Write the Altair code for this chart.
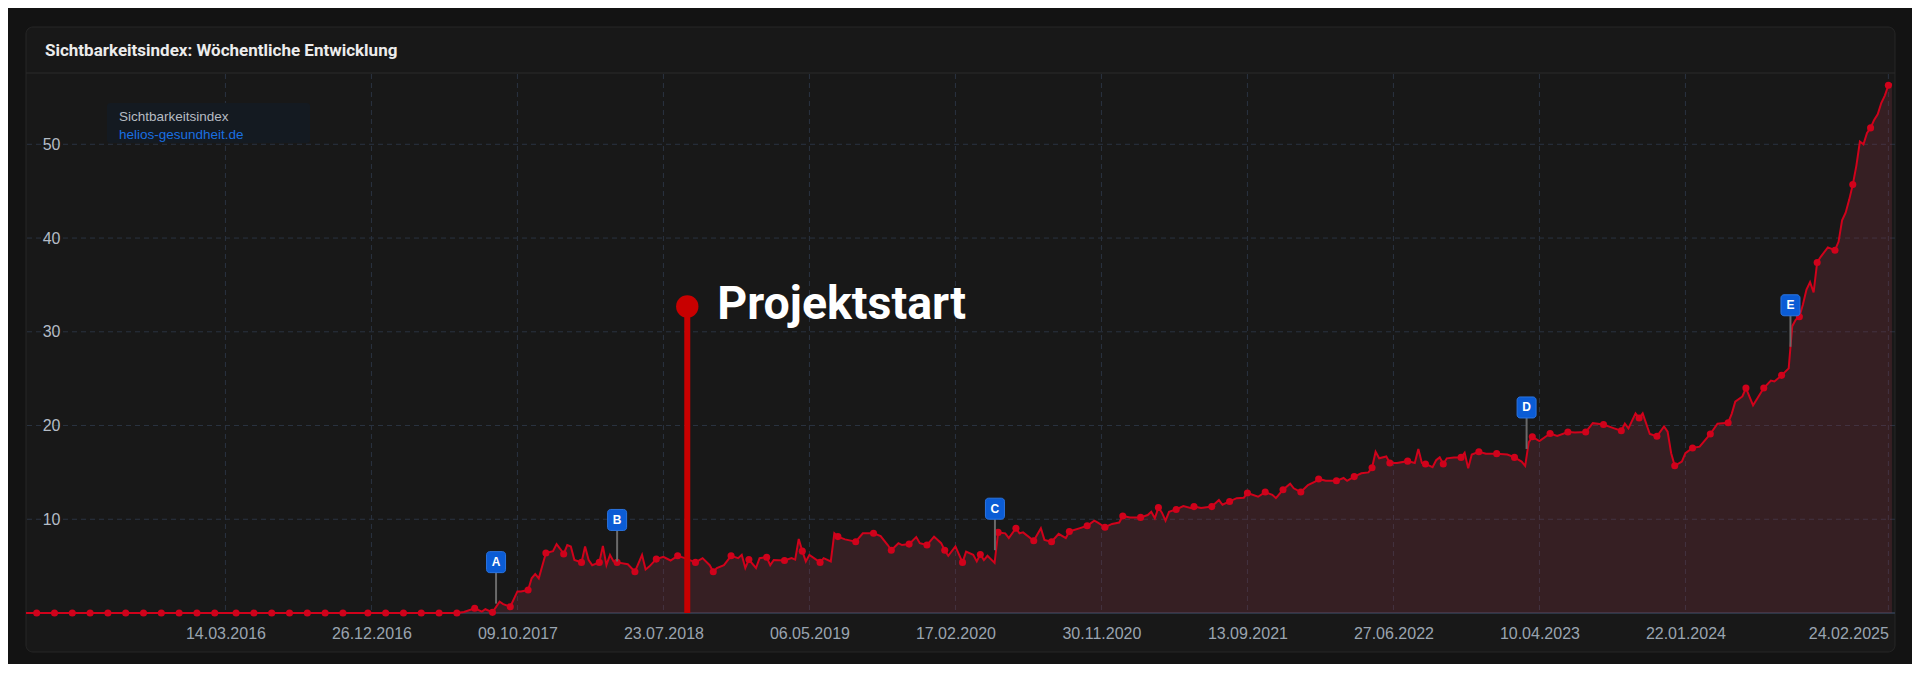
import altair as alt
import pandas as pd

# ---------------- data ----------------
START = "2015-02-16"          # first weekly value (Monday)

# week number counted from START, visibility index, 1 = drawn with a marker
week_no = [0, 3, 8, 13, 18, 23, 28, 33, 38, 43, 48, 53, 59, 64, 69, 74, 79, 84, 89, 96, 101, 106, 111, 116, 121,
           123, 126, 128, 129, 131, 133, 134, 136, 138, 139, 141, 142, 143, 144, 146, 148, 149, 150, 151, 152,
           153, 154, 156, 157, 158, 159, 161, 162, 163, 164, 165, 166, 169, 171, 173, 174, 175, 177, 179, 181,
           183, 185, 188, 190, 192, 193, 194, 196, 198, 200, 201, 202, 203, 205, 206, 208, 209, 210, 213, 215,
           216, 217, 218, 219, 220, 223, 224, 226, 227, 228, 230, 233, 235, 238, 240, 242, 243, 245, 246, 248,
           250, 251, 253, 255, 257, 258, 259, 261, 263, 264, 266, 267, 268, 269, 270, 272, 273, 275, 276, 278,
           279, 280, 283, 285, 286, 288, 290, 292, 293, 296, 298, 300, 301, 303, 305, 307, 308, 310, 313, 315,
           316, 317, 318, 319, 320, 321, 323, 325, 327, 328, 330, 333, 335, 336, 338, 340, 342, 343, 346, 348,
           350, 351, 353, 355, 356, 358, 360, 362, 363, 365, 368, 370, 371, 373, 375, 377, 378, 379, 380, 382,
           383, 385, 388, 390, 391, 392, 393, 395, 396, 397, 398, 399, 401, 403, 404, 405, 406, 408, 410, 413,
           416, 418, 420, 421, 422, 423, 425, 428, 430, 433, 435, 438, 440, 443, 446, 448, 449, 450, 452, 453,
           454, 456, 458, 460, 461, 462, 463, 465, 466, 468, 470, 473, 475, 478, 479, 480, 482, 483, 485, 488,
           490, 491, 493, 495, 496, 497, 498, 499, 500, 501, 502, 503, 504, 506, 508, 509, 510, 511, 512, 513,
           514, 515, 516, 517, 518, 519, 520, 521, 522, 523, 524]
index_value = [0, 0, 0, 0, 0, 0, 0, 0, 0, 0, 0, 0, 0, 0, 0, 0, 0, 0, 0, 0, 0, 0, 0, 0, 0,
               0.1, 0.5, 0.15, 0.4, 0.07, 1.2, 0.95, 0.67, 2.3, 2.3, 2.45, 3.7, 4.15, 3.7, 6.4, 6.6, 7.35, 6.85, 6.3, 7.25,
               7.1, 5.65, 5.4, 7.1, 5.65, 5.1, 5.4, 7.15, 5.1, 6.2, 5.5, 5.4, 5.2, 4.4, 6.2, 4.65, 4.95, 5.75, 6.0, 5.6,
               6.1, 5.85, 5.4, 5.85, 5.1, 4.4, 4.8, 5.1, 6.1, 5.85, 6.2, 4.8, 5.7, 4.8, 5.85, 5.95, 5.1, 5.65, 5.6, 5.85,
               5.7, 7.9, 6.6, 5.5, 6.2, 5.4, 5.85, 5.5, 8.5, 8.15, 7.85, 7.6, 8.5, 8.5, 8.2, 7.25, 6.7, 7.45, 7.25, 7.35,
               8.1, 7.45, 7.25, 8.15, 7.45, 6.7, 6.1, 7.1, 5.4, 6.55, 6.2, 5.5, 6.25, 5.65, 6.1, 5.35, 8.6, 8.5, 8.0, 9.05,
               8.5, 8.6, 7.7, 9.05, 7.8, 7.6, 8.45, 8.0, 8.7, 9.05, 9.3, 9.85, 9.65, 9.15, 9.5, 9.65, 10.35, 10.2, 10.2, 10.45,
               10.8, 10.1, 11.25, 10.7, 9.85, 10.8, 11.05, 11.4, 11.2, 11.35, 11.2, 11.35, 12.05, 11.55, 11.9, 12.25, 12.3, 12.8, 12.4, 12.9,
               12.6, 12.25, 13.15, 13.8, 13.3, 12.9, 13.65, 14.0, 14.3, 14.1, 14.1, 14.4, 14.1, 14.55, 14.9, 15.0, 15.5, 17.2, 16.5, 16.7,
               16.0, 16.0, 16.2, 16.0, 17.5, 16.0, 15.9, 15.55, 16.3, 16.6, 15.9, 16.5, 16.6, 16.6, 17.1, 15.45, 16.9, 17.2, 17.0, 17.0,
               16.9, 16.6, 16.15, 15.7, 18.2, 18.8, 18.35, 19.15, 18.9, 19.3, 19.25, 19.3, 20.25, 20.1, 19.7, 19.45, 20.2, 19.7, 21.3, 20.8,
               21.3, 19.1, 18.85, 19.9, 19.35, 17.05, 15.7, 16.15, 17.05, 17.6, 17.75, 19.1, 20.2, 20.3, 21.25, 22.55, 23.1, 24.0, 22.15, 24.0,
               24.8, 24.7, 25.35, 26.1, 30.6, 31.3, 31.6, 32.9, 34.5, 35.3, 34.2, 37.4, 38.0, 39.0, 38.7, 39.6, 41.9, 42.7, 44.1, 45.7,
               47.7, 50.3, 50.0, 51.2, 51.75, 52.6, 53.2, 54.4, 55.2, 56.3, 56.4]
marker = [0, 1, 1, 1, 1, 1, 1, 1, 1, 1, 1, 1, 1, 1, 1, 1, 1, 1, 1, 1, 1, 1, 1, 1, 1,
          0, 1, 0, 0, 1, 0, 0, 1, 0, 0, 1, 0, 0, 0, 1, 0, 0, 0, 1, 0,
          0, 0, 1, 0, 0, 0, 1, 0, 0, 0, 0, 1, 0, 1, 0, 0, 0, 1, 0, 0,
          1, 0, 1, 0, 0, 1, 0, 0, 1, 0, 0, 0, 1, 0, 0, 1, 0, 0, 1, 0,
          0, 0, 1, 0, 0, 1, 0, 0, 0, 1, 0, 1, 0, 1, 0, 0, 1, 0, 0, 1,
          0, 0, 1, 0, 0, 1, 0, 0, 1, 0, 0, 0, 1, 0, 0, 0, 1, 0, 0, 1,
          0, 0, 1, 0, 0, 1, 0, 0, 1, 0, 1, 0, 0, 1, 0, 0, 1, 0, 1, 0,
          0, 0, 1, 0, 0, 0, 1, 0, 0, 1, 0, 1, 0, 0, 1, 0, 0, 1, 0, 1,
          0, 0, 1, 0, 0, 1, 0, 0, 1, 0, 1, 0, 0, 1, 0, 0, 1, 0, 0, 0,
          1, 0, 1, 0, 0, 0, 1, 0, 0, 0, 1, 0, 0, 1, 0, 0, 0, 1, 0, 1,
          0, 1, 0, 0, 0, 1, 0, 1, 0, 1, 0, 1, 0, 1, 0, 1, 0, 0, 0, 1,
          0, 0, 1, 0, 0, 0, 1, 0, 0, 1, 0, 1, 0, 1, 0, 0, 0, 1, 0, 1,
          0, 0, 1, 0, 0, 0, 1, 0, 0, 0, 0, 1, 0, 0, 1, 0, 0, 0, 0, 1,
          0, 0, 0, 0, 1, 0, 0, 0, 0, 1, 0]

x_tick_labels = ["14.03.2016", "26.12.2016", "09.10.2017", "23.07.2018", "06.05.2019", "17.02.2020",
                 "30.11.2020", "13.09.2021", "27.06.2022", "10.04.2023", "22.01.2024", "24.02.2025"]
y_tick_values = [10, 20, 30, 40, 50]
x_domain = ["2015-02-16", "2025-03-09"]
y_domain = [0, 57.5]

event_letter = ["A", "B", "C", "D", "E"]
event_week = [132, 166, 272.1, 421.4, 495.5]
event_anchor = [1.0, 5.5, 6.7, 17.5, 28.4]

project_label = "Projektstart"
project_week = 185.7
project_value = 32.7

chart_title = "Sichtbarkeitsindex: Wöchentliche Entwicklung"
legend_name = "Sichtbarkeitsindex"
legend_domain = "helios-gesundheit.de"

# ---------------- helpers ----------------
def to_ms(ts):
    return int(pd.Timestamp(ts).value // 10**6)

WEEK_MS = 7 * 24 * 3600 * 1000
start_ms = to_ms(START)

def week_ms(w):
    return start_ms + w * WEEK_MS

series = pd.DataFrame({"t": [week_ms(w) for w in week_no], "v": index_value, "m": marker})
dots = series[series["m"] == 1]
xticks = pd.DataFrame({"t": [to_ms(pd.to_datetime(s, format="%d.%m.%Y")) for s in x_tick_labels]})
yticks = pd.DataFrame({"v": y_tick_values})
events = pd.DataFrame({"t": [week_ms(w) for w in event_week], "v": event_anchor, "label": event_letter})
project = pd.DataFrame({"t": [week_ms(project_week)], "v": [project_value], "label": [project_label]})

W, H = 1869, 539
LINE = "#d0021b"
GRID = "#2a3341"
LABEL_FONT = "Liberation Sans"

x_scale = alt.Scale(type="utc", domain=[to_ms(d) for d in x_domain])
y_scale = alt.Scale(domain=y_domain, nice=False, zero=True)

x_axis = alt.Axis(values=list(xticks["t"]), labelExpr="utcFormat(datum.value, '%d.%m.%Y')",
                  labelFlush=10, grid=False, domain=False, ticks=False, tickSize=0, labelPadding=12,
                  labelColor="#9aa4b0", labelFontSize=16, labelFont=LABEL_FONT, title=None,
                  zindex=1, labelOverlap=False)
y_axis = alt.Axis(values=y_tick_values, grid=False, domain=False, ticks=False, tickSize=0,
                  labelPadding=-34, labelAlign="right", labelColor="#b4bcc6", labelFontSize=16,
                  labelFont=LABEL_FONT, title=None, zindex=1)

X = alt.X("t:T", scale=x_scale, axis=x_axis)
Y = alt.Y("v:Q", scale=y_scale, axis=y_axis)

one = pd.DataFrame({"k": [0]})

# card and header
card = alt.Chart(one).mark_rect(fill="#181818", stroke="#272727", strokeWidth=1, cornerRadius=7).encode(
    x=alt.value(0), x2=alt.value(W), y=alt.value(-47), y2=alt.value(578))
header_rule = alt.Chart(one).mark_rule(color="#2a2a2a", strokeWidth=1).encode(
    x=alt.value(0), x2=alt.value(W), y=alt.value(-1))
title = alt.Chart(one).mark_text(align="left", baseline="middle", font="Roboto", fontWeight="bold",
                                 fontSize=17, color="#ececec").encode(
    x=alt.value(19), y=alt.value(-23), text=alt.value(chart_title))

# grid
grid_v = alt.Chart(xticks).mark_rule(color=GRID, strokeWidth=1, strokeDash=[5, 4]).encode(x=X)
grid_h = alt.Chart(yticks).mark_rule(color=GRID, strokeWidth=1, strokeDash=[5, 4]).encode(y=Y)
base_rule = alt.Chart(one).mark_rule(color="#2c3645", strokeWidth=2).encode(
    x=alt.value(0), x2=alt.value(W), y=alt.value(H))

# legend box
legend_box = alt.Chart(one).mark_rect(fill="#141a21", cornerRadius=3).encode(
    x=alt.value(81), x2=alt.value(284), y=alt.value(29), y2=alt.value(69))
legend_t1 = alt.Chart(one).mark_text(align="left", baseline="middle", font=LABEL_FONT, fontSize=13.5,
                                     color="#b7bcc3").encode(
    x=alt.value(93), y=alt.value(42.5), text=alt.value(legend_name))
legend_t2 = alt.Chart(one).mark_text(align="left", baseline="middle", font=LABEL_FONT, fontSize=13.5,
                                     color="#1a6fe0").encode(
    x=alt.value(93), y=alt.value(61), text=alt.value(legend_domain))

# series
area = alt.Chart(series).mark_area(color="#903444", opacity=0.25).encode(x=X, y=Y)
line = alt.Chart(series).mark_line(color=LINE, strokeWidth=2).encode(x=X, y=Y)
points = alt.Chart(dots).mark_point(filled=True, color=LINE, size=50, opacity=1).encode(x=X, y=Y)

# event flags
poles = alt.Chart(events).mark_rule(color="#6a6a6a", strokeWidth=2, y2Offset=-31).encode(
    x=X, y=Y, y2="v:Q")
flags = alt.Chart(events).mark_rect(fill="#0b5cd5", stroke="#2b74e0", strokeWidth=1, cornerRadius=3,
                                    xOffset=-9.5, x2Offset=9.5, yOffset=-31, y2Offset=-52).encode(
    x=X, x2="t:T", y=Y, y2="v:Q")
flag_text = alt.Chart(events).mark_text(color="white", font=LABEL_FONT, fontWeight="bold", fontSize=12,
                                        baseline="middle", align="center", dy=-41.5).encode(
    x=X, y=Y, text="label:N")

# Projektstart marker
proj_rule = alt.Chart(project).mark_rule(color="#c80000", strokeWidth=6).encode(
    x=X, y=Y, y2=alt.datum(0))
proj_dot = alt.Chart(project).mark_point(filled=True, color="#c80000", size=500, opacity=1).encode(x=X, y=Y)
proj_text = alt.Chart(project).mark_text(align="left", baseline="alphabetic", font="Roboto",
                                         fontWeight="bold", fontSize=46.5, color="white", dx=30, dy=13).encode(
    x=X, y=Y, text="label:N")

chart = alt.layer(
    card, header_rule, title, grid_v, grid_h, legend_box, legend_t1, legend_t2, base_rule,
    area, line, points, poles, flags, flag_text, proj_rule, proj_dot, proj_text
).properties(
    width=W, height=H,
    padding={"left": 18, "top": 66, "right": 17, "bottom": 51},
    autosize=alt.AutoSizeParams(type="none"),
    background="#131313",
).configure_view(stroke=None, fill=None)

chart.save("out.html", embed_options={"renderer": "svg", "actions": False})
